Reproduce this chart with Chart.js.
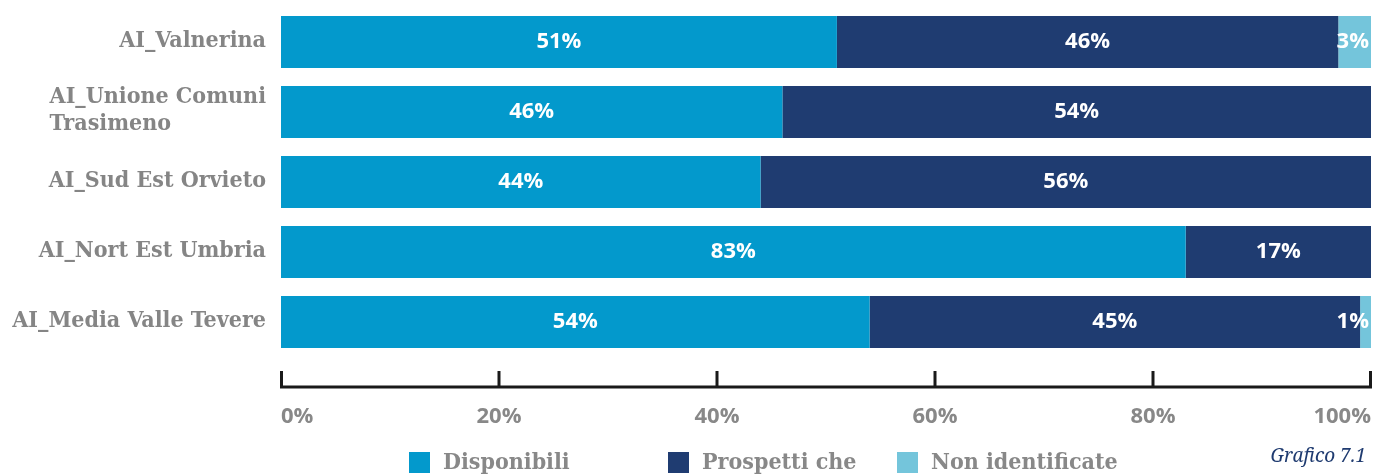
<!DOCTYPE html>
<html>
<head>
<meta charset="utf-8">
<script src="https://cdn.jsdelivr.net/npm/chart.js@4"></script>
<style>
  html, body { margin: 0; padding: 0; background: #fff; }
  #wrap { width: 1381px; height: 475px; position: relative; }
</style>
</head>
<body>
<div id="wrap"><canvas id="barChart"></canvas></div>
<script>
// data
var categories = ['AI_Valnerina', ['AI_Unione Comuni', 'Trasimeno'], 'AI_Sud Est Orvieto', 'AI_Nort Est Umbria', 'AI_Media Valle Tevere'];
var seriesNames = ['Disponibili', 'Prospetti che', 'Non identificate'];
var disponibili = [51, 46, 44, 83, 54];
var prospettiche = [46, 54, 56, 17, 45];
var nonIdentificate = [3, 0, 0, 0, 1];
var tickValues = [0, 20, 40, 60, 80, 100];
var colors = ['#0399CC', '#1F3C71', '#74C5DB'];

var labelFont = '"DejaVu Serif Condensed", "DejaVu Serif", serif';
var sansFont = '"Open Sans", "DejaVu Sans", sans-serif';

// white % labels in the middle of each segment
var segmentLabels = {
  id: 'segmentLabels',
  afterDatasetsDraw: function(chart) {
    var ctx = chart.ctx;
    var right = chart.chartArea.right;
    ctx.save();
    ctx.font = 'bold 22px ' + sansFont;
    ctx.fillStyle = '#ffffff';
    ctx.textAlign = 'center';
    ctx.textBaseline = 'middle';
    chart.data.datasets.forEach(function(ds, i) {
      chart.getDatasetMeta(i).data.forEach(function(bar, j) {
        var v = ds.data[j];
        if (!v) return;
        var txt = v + '%';
        var w = ctx.measureText(txt).width;
        var cx = (bar.x + bar.base) / 2;
        // keep small labels inside the plot
        if (cx + w / 2 > right - 2) cx = right - 2 - w / 2;
        ctx.fillText(txt, cx, bar.y);
      });
    });
    ctx.restore();
  }
};

// category labels: block right-aligned to the axis, lines left-aligned inside it
var categoryLabels = {
  id: 'categoryLabels',
  afterDraw: function(chart) {
    var ctx = chart.ctx;
    var y = chart.scales.y;
    ctx.save();
    ctx.font = 'bold 23px ' + labelFont;
    ctx.fillStyle = '#858585';
    ctx.textAlign = 'left';
    ctx.textBaseline = 'middle';
    chart.data.labels.forEach(function(lbl, i) {
      var lines = Array.isArray(lbl) ? lbl : [lbl];
      var maxW = 0;
      lines.forEach(function(l) { maxW = Math.max(maxW, ctx.measureText(l).width); });
      var left = chart.chartArea.left - 15 - maxW;
      var cy = y.getPixelForTick(i);
      lines.forEach(function(l, k) {
        ctx.fillText(l, left, cy + (k - (lines.length - 1) / 2) * 27 - 1);
      });
    });
    ctx.restore();
  }
};

// bottom axis drawn as a bracket with ticks going up, plus legend and caption
var legendX = [409, 668, 897];
var bracketAxis = {
  id: 'bracketAxis',
  afterDraw: function(chart) {
    var ctx = chart.ctx;
    var x = chart.scales.x;
    var y = chart.chartArea.bottom + 30;
    ctx.save();
    ctx.strokeStyle = '#1a1a1a';
    ctx.lineWidth = 3;
    ctx.beginPath();
    ctx.moveTo(x.getPixelForValue(0) - 1, y);
    ctx.lineTo(x.getPixelForValue(100) + 1, y);
    tickValues.forEach(function(t) {
      var px = x.getPixelForValue(t);
      if (t === 0) px += 0.5;
      if (t === 100) px -= 0.5;
      ctx.moveTo(px, y + 1);
      ctx.lineTo(px, y - 16);
    });
    ctx.stroke();

    // legend
    ctx.font = 'bold 23px ' + labelFont;
    ctx.textAlign = 'left';
    ctx.textBaseline = 'middle';
    chart.data.datasets.forEach(function(ds, i) {
      ctx.fillStyle = ds.backgroundColor;
      ctx.fillRect(legendX[i], 452, 21, 21);
      ctx.fillStyle = '#888888';
      ctx.fillText(ds.label, legendX[i] + 34, 463);
    });

    // caption
    ctx.font = 'italic 19px "Noto Serif", serif';
    ctx.fillStyle = '#1F3B70';
    ctx.textAlign = 'right';
    ctx.fillText('Grafico 7.1', 1366, 457);
    ctx.restore();
  }
};

var ctx = document.getElementById('barChart');

window.barChart = new Chart(ctx, {
  type: 'bar',
  data: {
    labels: categories,
    datasets: [
      { label: seriesNames[0], data: disponibili, backgroundColor: colors[0] },
      { label: seriesNames[1], data: prospettiche, backgroundColor: colors[1] },
      { label: seriesNames[2], data: nonIdentificate, backgroundColor: colors[2] }
    ]
  },
  options: {
    indexAxis: 'y',
    responsive: true,
    maintainAspectRatio: false,
    animation: false,
    layout: { padding: { top: 7, right: 10, bottom: 0, left: 0 } },
    datasets: {
      bar: { barPercentage: 0.743, categoryPercentage: 1, borderWidth: 0 }
    },
    scales: {
      x: {
        stacked: true,
        min: 0,
        max: 100,
        border: { display: false },
        grid: { display: false, drawTicks: false },
        afterFit: function(scale) {
          scale.height = 118;
          scale.paddingLeft = 0;
          scale.paddingRight = 0;
        },
        ticks: {
          stepSize: 20,
          align: 'inner',
          padding: 47,
          color: '#888888',
          font: { family: sansFont, size: 22, weight: 'bold' },
          callback: function(v) { return v + '%'; }
        }
      },
      y: {
        stacked: true,
        border: { display: false },
        grid: { display: false, drawTicks: false },
        afterFit: function(scale) {
          scale.width = 281;
          scale.paddingTop = 0;
          scale.paddingBottom = 0;
        },
        ticks: { display: false, autoSkip: false }
      }
    },
    plugins: {
      legend: { display: false },
      tooltip: { enabled: false }
    }
  },
  plugins: [segmentLabels, categoryLabels, bracketAxis]
});
</script>
</body>
</html>
